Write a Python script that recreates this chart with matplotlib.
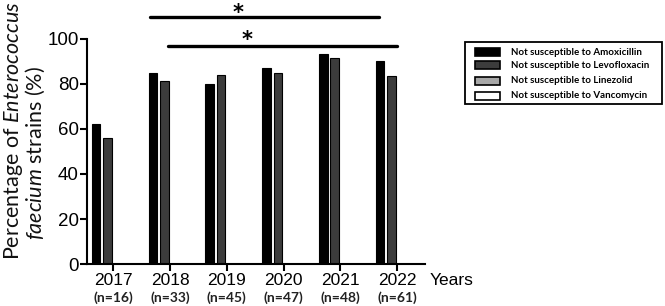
import numpy as np
import matplotlib
matplotlib.use('Agg')
import matplotlib.pyplot as plt
from matplotlib.patches import Rectangle

# Datos
years = ['2017', '2018', '2019', '2020', '2021', '2022']
n_labels = ['(n=16)', '(n=33)', '(n=45)', '(n=47)', '(n=48)', '(n=61)']
amoxicillin = [62, 85, 80, 87, 93.5, 90]
levofloxacin = [56, 81.5, 84, 85, 91.5, 83.5]
linezolid = [0, 0, 0, 0, 0, 0]
vancomycin = [0, 0, 0, 0, 0, 0]
series_names = ['Not susceptible to Amoxicillin', 'Not susceptible to Levofloxacin',
                'Not susceptible to Linezolid', 'Not susceptible to Vancomycin']
# lineas de significancia: (inicio, fin, x estrella)
sig_lines = [(0.65, 4.68, 2.19), (0.96, 5.0, 2.35)]
sig_y = [109.5, 97.0]

plt.rcParams['mathtext.fontset'] = 'custom'
plt.rcParams['mathtext.rm'] = 'Lato'
plt.rcParams['mathtext.it'] = 'Lato:italic'

W, H = 665, 306
fig = plt.figure(figsize=(6.65, 3.06), dpi=100)
ax = fig.add_axes([0.131, 0.137, 0.508, 0.736])

x = np.arange(len(years))
w = 0.15
step = 0.2
colors = ['#000000', '#3c3c3c', '#a8a8a8', '#ffffff']
all_series = [amoxicillin, levofloxacin, linezolid, vancomycin]
for i, (vals, col) in enumerate(zip(all_series, colors)):
    ax.bar(x + (i - 1.5) * step, vals, width=w, color=col, edgecolor='black', linewidth=0.8)

ax.set_xlim(-0.46, 5.49)
ax.set_ylim(0, 100)
ax.set_yticks([0, 20, 40, 60, 80, 100])
ax.set_xticks(x)
ax.set_xticklabels([''] * len(years))
for s in ['top', 'right']:
    ax.spines[s].set_visible(False)
for s in ['left', 'bottom']:
    ax.spines[s].set_linewidth(1.5)
ax.tick_params(axis='both', width=1.5, length=5, direction='out')
ax.tick_params(axis='y', labelsize=13.5, pad=1)
for lbl in ax.get_yticklabels():
    lbl.set_family('Liberation Sans')

trans = ax.get_xaxis_transform()
for xi, yr, nl in zip(x, years, n_labels):
    ax.text(xi, -0.075, yr, transform=trans, ha='center', va='center', fontsize=12.5,
            family='Liberation Sans')
    ax.text(xi, -0.15, nl, transform=trans, ha='center', va='center', fontsize=10,
            family='Lato', fontweight='bold', color='#222222')
ax.text(5.57, -0.075, 'Years', transform=trans, ha='left', va='center', fontsize=12.5,
        family='Liberation Sans')

# significancia
for (x0, x1, xs), yy in zip(sig_lines, sig_y):
    ax.plot([x0, x1], [yy, yy], color='black', linewidth=2.4, clip_on=False,
            solid_capstyle='round')
for (x0, x1, xs), yb in zip(sig_lines, [108.8, 96.8]):
    ax.text(xs, yb, '*', ha='center', va='baseline', fontsize=15, fontweight='bold',
            clip_on=False)

# etiqueta eje y
fig.text(14 / W, 1 - 131 / H, r'Percentage of $\mathit{Enterococcus}$', rotation=90,
         ha='center', va='center', fontsize=15.5, family='Lato', color='#111111')
fig.text(35 / W, 1 - 153 / H, r'$\mathit{faecium}$ strains (%)', rotation=90,
         ha='center', va='center', fontsize=15.5, family='Lato', color='#111111')

# leyenda
fig.patches.append(Rectangle((465 / W, 1 - 104 / H), 197 / W, 62 / H, transform=fig.transFigure,
                             facecolor='white', edgecolor='black', linewidth=1.3))
row_y = [52, 65, 81, 96]
for yy, col, name in zip(row_y, colors, series_names):
    fig.patches.append(Rectangle((475 / W, 1 - (yy + 3.5) / H), 25 / W, 7 / H,
                                 transform=fig.transFigure, facecolor=col,
                                 edgecolor='black', linewidth=1.2))
    fig.text(511 / W, 1 - yy / H, name, ha='left', va='center', fontsize=7,
             family='Lato', fontweight='bold')

fig.savefig('out.png', dpi=100)
